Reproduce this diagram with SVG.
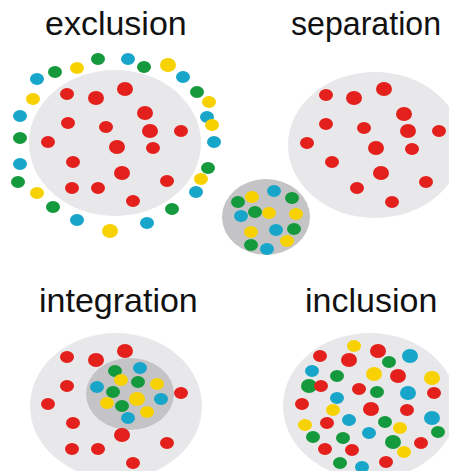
<svg xmlns="http://www.w3.org/2000/svg" xmlns:xlink="http://www.w3.org/1999/xlink" width="449" height="471" viewBox="0 0 449 471">
<style>
.t{font-family:"Liberation Sans",Arial,sans-serif;font-size:34px;fill:#111}
.bg{fill:#e8e8eb}
.dk{fill:#c4c4c6}
.r{fill:#e3201b}.g{fill:#149a3c}.b{fill:#17a6c9}.y{fill:#f8d200}
</style>
<defs>
<ellipse id="d" rx="7" ry="6"/>
<ellipse id="D" rx="8" ry="7"/>
</defs>
<rect width="449" height="471" fill="#fff"/>
<text class="t" x="45" y="35">exclusion</text>
<text class="t" x="291" y="35" font-size="33" textLength="150" lengthAdjust="spacingAndGlyphs">separation</text>
<text class="t" x="39" y="312">integration</text>
<text class="t" x="305" y="312">inclusion</text>

<g id="exclusion">
<ellipse class="bg" cx="115" cy="143" rx="86" ry="73"/>
<use href="#d" class="b" x="37" y="79"/><use href="#d" class="g" x="55" y="72"/><use href="#d" class="y" x="77" y="68"/>
<use href="#d" class="g" x="98" y="59"/><use href="#d" class="b" x="128" y="59"/><use href="#d" class="g" x="144" y="67"/>
<use href="#D" class="y" x="168" y="65"/><use href="#d" class="b" x="183" y="77"/><use href="#d" class="g" x="197" y="92"/>
<use href="#d" class="y" x="209" y="102"/><use href="#d" class="b" x="207" y="117"/><use href="#d" class="y" x="212" y="125"/>
<use href="#d" class="b" x="214" y="142"/><use href="#d" class="g" x="208" y="168"/><use href="#d" class="y" x="201" y="179"/>
<use href="#d" class="b" x="196" y="192"/><use href="#d" class="g" x="172" y="209"/><use href="#d" class="b" x="147" y="223"/>
<use href="#D" class="y" x="110" y="231"/><use href="#d" class="b" x="77" y="220"/><use href="#d" class="g" x="53" y="207"/>
<use href="#d" class="y" x="37" y="193"/><use href="#d" class="g" x="18" y="182"/><use href="#d" class="b" x="20" y="164"/>
<use href="#d" class="g" x="20" y="138"/><use href="#d" class="b" x="20" y="116"/><use href="#d" class="y" x="33" y="99"/>
<use href="#d" class="r" x="67" y="94"/><use href="#D" class="r" x="96" y="98"/><use href="#D" class="r" x="125" y="89"/>
<use href="#D" class="r" x="145" y="113"/><use href="#d" class="r" x="68" y="123"/><use href="#d" class="r" x="106" y="127"/>
<use href="#D" class="r" x="150" y="131"/><use href="#d" class="r" x="181" y="131"/><use href="#d" class="r" x="48" y="142"/>
<use href="#D" class="r" x="117" y="147"/><use href="#d" class="r" x="153" y="148"/><use href="#d" class="r" x="73" y="162"/>
<use href="#D" class="r" x="122" y="173"/><use href="#d" class="r" x="72" y="188"/><use href="#d" class="r" x="98" y="188"/>
<use href="#d" class="r" x="167" y="181"/><use href="#d" class="r" x="133" y="201"/>
</g>

<g id="separation">
<ellipse class="bg" cx="375" cy="145" rx="87" ry="73"/>
<use href="#d" class="r" x="326" y="95"/><use href="#D" class="r" x="354" y="98"/><use href="#D" class="r" x="384" y="89"/>
<use href="#D" class="r" x="404" y="114"/><use href="#d" class="r" x="326" y="124"/><use href="#d" class="r" x="364" y="128"/>
<use href="#D" class="r" x="408" y="131"/><use href="#d" class="r" x="439" y="131"/><use href="#d" class="r" x="307" y="143"/>
<use href="#D" class="r" x="376" y="148"/><use href="#d" class="r" x="412" y="149"/><use href="#d" class="r" x="332" y="162"/>
<use href="#D" class="r" x="381" y="173"/><use href="#d" class="r" x="357" y="188"/><use href="#d" class="r" x="426" y="182"/>
<use href="#d" class="r" x="392" y="202"/>
</g>

<g id="separated-group">
<ellipse class="dk" cx="266" cy="217" rx="44" ry="38"/>
<use href="#d" class="g" x="238" y="202"/><use href="#d" class="y" x="252" y="197"/><use href="#d" class="b" x="274" y="191"/>
<use href="#d" class="g" x="292" y="198"/><use href="#d" class="b" x="241" y="216"/><use href="#d" class="g" x="255" y="212"/>
<use href="#d" class="y" x="269" y="213"/><use href="#d" class="y" x="296" y="214"/><use href="#d" class="y" x="251" y="232"/>
<use href="#d" class="b" x="276" y="230"/><use href="#d" class="g" x="294" y="229"/><use href="#d" class="y" x="287" y="241"/>
<use href="#d" class="g" x="251" y="245"/><use href="#d" class="b" x="267" y="249"/>
</g>

<g id="integration">
<ellipse class="bg" cx="116" cy="406" rx="86" ry="73"/>
<ellipse class="dk" cx="130" cy="394" rx="44" ry="36"/>
<use href="#d" class="r" x="67" y="357"/><use href="#D" class="r" x="96" y="360"/><use href="#D" class="r" x="125" y="351"/>
<use href="#d" class="r" x="67" y="386"/><use href="#d" class="r" x="48" y="404"/><use href="#d" class="r" x="181" y="393"/>
<use href="#d" class="r" x="73" y="423"/><use href="#D" class="r" x="122" y="435"/><use href="#d" class="r" x="72" y="449"/>
<use href="#d" class="r" x="98" y="449"/><use href="#d" class="r" x="167" y="443"/><use href="#d" class="r" x="133" y="463"/>
<use href="#d" class="g" x="115" y="371"/><use href="#d" class="b" x="140" y="368"/><use href="#d" class="y" x="121" y="380"/>
<use href="#d" class="g" x="138" y="382"/><use href="#d" class="y" x="157" y="384"/><use href="#d" class="b" x="97" y="387"/>
<use href="#d" class="g" x="113" y="392"/><use href="#D" class="y" x="137" y="399"/><use href="#d" class="b" x="161" y="399"/>
<use href="#d" class="y" x="107" y="403"/><use href="#d" class="g" x="122" y="406"/><use href="#d" class="y" x="147" y="412"/>
<use href="#d" class="b" x="128" y="418"/>
</g>

<g id="inclusion">
<ellipse class="bg" cx="370" cy="406" rx="87" ry="73"/>
<use href="#d" class="y" x="354" y="346"/><use href="#d" class="r" x="320" y="356"/><use href="#D" class="r" x="378" y="351"/>
<use href="#D" class="b" x="410" y="356"/><use href="#D" class="r" x="349" y="360"/><use href="#d" class="g" x="389" y="362"/>
<use href="#d" class="b" x="312" y="371"/><use href="#d" class="g" x="337" y="376"/><use href="#D" class="y" x="374" y="374"/>
<use href="#D" class="r" x="398" y="376"/><use href="#D" class="y" x="432" y="378"/><use href="#D" class="g" x="309" y="386"/>
<use href="#d" class="r" x="321" y="386"/><use href="#d" class="r" x="359" y="389"/><use href="#d" class="g" x="377" y="392"/>
<use href="#D" class="b" x="408" y="393"/><use href="#d" class="r" x="434" y="393"/><use href="#d" class="b" x="337" y="398"/>
<use href="#d" class="r" x="302" y="404"/><use href="#d" class="y" x="333" y="410"/><use href="#D" class="r" x="371" y="409"/>
<use href="#d" class="r" x="407" y="410"/><use href="#d" class="b" x="349" y="420"/><use href="#D" class="b" x="432" y="418"/>
<use href="#d" class="y" x="305" y="425"/><use href="#d" class="r" x="327" y="423"/><use href="#d" class="g" x="385" y="422"/>
<use href="#d" class="y" x="400" y="428"/><use href="#d" class="g" x="438" y="432"/><use href="#d" class="b" x="369" y="433"/>
<use href="#d" class="g" x="313" y="437"/><use href="#d" class="g" x="343" y="438"/><use href="#D" class="g" x="393" y="442"/>
<use href="#d" class="r" x="421" y="443"/><use href="#d" class="y" x="404" y="452"/><use href="#d" class="r" x="325" y="449"/>
<use href="#d" class="r" x="352" y="450"/><use href="#d" class="g" x="340" y="463"/><use href="#d" class="b" x="362" y="467"/>
<use href="#d" class="r" x="386" y="462"/>
</g>
</svg>
